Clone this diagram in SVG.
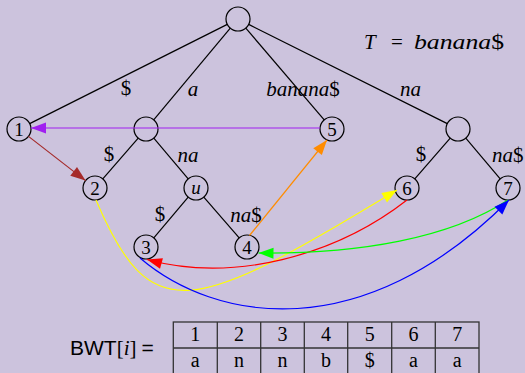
<svg xmlns="http://www.w3.org/2000/svg" width="525" height="373" viewBox="0 0 525 373">
<style>
.node circle{fill:none;stroke:#000;stroke-width:1.2}
.node text{font-family:"Liberation Serif",serif;font-size:19px;text-anchor:middle;fill:#000}
.edge{stroke:#000;stroke-width:1.2;fill:none}
.lbl{font-family:"Liberation Serif",serif;font-size:21px;font-style:italic;fill:#000}
.up{font-style:normal}
.arr{fill:none;stroke-width:1.2}
.tbl{fill:none;stroke:#333;stroke-width:1.3}
.cell{font-family:"Liberation Serif",serif;font-size:20px;text-anchor:middle;fill:#000}
</style>
<defs>
<marker id="m-purple" viewBox="-16 -7 17 14" refX="0" refY="0" markerWidth="17" markerHeight="14" markerUnits="userSpaceOnUse" orient="auto"><path d="M0,0 L-15,-5.5 L-15,5.5 Z" fill="#a020f0"/></marker>
<marker id="m-brown" viewBox="-16 -7 17 14" refX="0" refY="0" markerWidth="17" markerHeight="14" markerUnits="userSpaceOnUse" orient="auto"><path d="M0,0 L-15,-5.5 L-15,5.5 Z" fill="#a52a2a"/></marker>
<marker id="m-orange" viewBox="-16 -7 17 14" refX="0" refY="0" markerWidth="17" markerHeight="14" markerUnits="userSpaceOnUse" orient="auto"><path d="M0,0 L-15,-5.5 L-15,5.5 Z" fill="#ff8c00"/></marker>
<marker id="m-yellow" viewBox="-16 -7 17 14" refX="0" refY="0" markerWidth="17" markerHeight="14" markerUnits="userSpaceOnUse" orient="auto"><path d="M0,0 L-15,-5.5 L-15,5.5 Z" fill="#ffff00"/></marker>
<marker id="m-red" viewBox="-16 -7 17 14" refX="0" refY="0" markerWidth="17" markerHeight="14" markerUnits="userSpaceOnUse" orient="auto"><path d="M0,0 L-15,-5.5 L-15,5.5 Z" fill="#ff0000"/></marker>
<marker id="m-green" viewBox="-16 -7 17 14" refX="0" refY="0" markerWidth="17" markerHeight="14" markerUnits="userSpaceOnUse" orient="auto"><path d="M0,0 L-15,-5.5 L-15,5.5 Z" fill="#00ff00"/></marker>
<marker id="m-blue" viewBox="-16 -7 17 14" refX="0" refY="0" markerWidth="17" markerHeight="14" markerUnits="userSpaceOnUse" orient="auto"><path d="M0,0 L-15,-5.5 L-15,5.5 Z" fill="#0000ff"/></marker>
</defs>
<rect x="0" y="0" width="525" height="373" fill="#ccc3dd"/>

<g id="connectors">
<line class="edge" x1="227.3" y1="24.4" x2="29.7" y2="123.6"/>
<line class="edge" x1="230.3" y1="28.2" x2="153.7" y2="119.8"/>
<line class="edge" x1="245.8" y1="28.1" x2="324.2" y2="119.9"/>
<line class="edge" x1="248.7" y1="24.4" x2="447.3" y2="123.6"/>
<line class="edge" x1="138.2" y1="138.1" x2="102.8" y2="178.9"/>
<line class="edge" x1="153.8" y1="138.2" x2="188.2" y2="178.8"/>
<line class="edge" x1="188.2" y1="197.2" x2="153.8" y2="237.8"/>
<line class="edge" x1="203.8" y1="197.1" x2="239.2" y2="237.9"/>
<line class="edge" x1="450.2" y1="138.1" x2="414.8" y2="178.9"/>
<line class="edge" x1="465.8" y1="138.2" x2="500.2" y2="178.8"/>
<g id="edge-labels">
<text class="lbl up" x="126" y="95" text-anchor="middle">$</text>
<text class="lbl" x="193" y="96" text-anchor="middle">a</text>
<text class="lbl" x="303" y="96" text-anchor="middle">banana<tspan class="up">$</tspan></text>
<text class="lbl" x="410.5" y="96" text-anchor="middle">na</text>
<text class="lbl up" x="109" y="161" text-anchor="middle">$</text>
<text class="lbl" x="188" y="162" text-anchor="middle">na</text>
<text class="lbl up" x="160" y="221" text-anchor="middle">$</text>
<text class="lbl" x="246" y="222" text-anchor="middle">na<tspan class="up">$</tspan></text>
<text class="lbl up" x="421" y="161" text-anchor="middle">$</text>
<text class="lbl" x="492" y="162">na<tspan class="up">$</tspan></text>
</g>
</g>

<g id="nodes">
<g id="root" class="node"><circle cx="238" cy="19" r="12"/></g>
<g id="n1" class="node"><circle cx="19" cy="129" r="12"/><text x="19" y="136">1</text></g>
<g id="nA" class="node"><circle cx="146" cy="129" r="12"/></g>
<g id="n2" class="node"><circle cx="95" cy="188" r="12"/><text x="95" y="195">2</text></g>
<g id="nU" class="node"><circle cx="196" cy="188" r="12"/><text x="196" y="194" font-style="italic">u</text></g>
<g id="n3" class="node"><circle cx="146" cy="247" r="12"/><text x="146" y="254">3</text></g>
<g id="n4" class="node"><circle cx="247" cy="247" r="12"/><text x="247" y="254">4</text></g>
<g id="n5" class="node"><circle cx="332" cy="129" r="12"/><text x="332" y="136">5</text></g>
<g id="nN" class="node"><circle cx="458" cy="129" r="12"/></g>
<g id="n6" class="node"><circle cx="407" cy="188" r="12"/><text x="407" y="195">6</text></g>
<g id="n7" class="node"><circle cx="508" cy="188" r="12"/><text x="508" y="195">7</text></g>
</g>

<g id="arrows">
<path class="arr" stroke="#a020f0" d="M320,128 L31,128" marker-end="url(#m-purple)"/>
<path class="arr" stroke="#a52a2a" d="M28.5,136.4 L85.5,180.6" marker-end="url(#m-brown)"/>
<path class="arr" stroke="#ff8c00" d="M249.5,235.5 L327,140" marker-end="url(#m-orange)"/>
<path class="arr" stroke="#ffff00" d="M96,200 C151,329 191,315 397,190" marker-end="url(#m-yellow)"/>
<path class="arr" stroke="#ff0000" d="M407,200 C335,256 233,283 147,259.5" marker-end="url(#m-red)"/>
<path class="arr" stroke="#00ff00" d="M508,200 C450,238 360,254 258.5,253" marker-end="url(#m-green)"/>
<path class="arr" stroke="#0000ff" d="M140,258 C215,322 362,348 509,200" marker-end="url(#m-blue)"/>
</g>

<g id="title">
<text class="lbl" x="364" y="49" font-size="27">T</text>
<text class="lbl up" x="397" y="49" font-size="26" text-anchor="middle">=</text>
<text class="lbl" x="414" y="49" font-size="27" textLength="90" lengthAdjust="spacingAndGlyphs">banana<tspan class="up">$</tspan></text>
</g>

<g id="bwt">
<text x="70" y="355" font-family="Liberation Sans, sans-serif" font-size="21" fill="#000">BWT<tspan font-family="Liberation Serif, serif">[<tspan font-style="italic">i</tspan>]</tspan><tspan dx="5">=</tspan></text>
<rect class="tbl" x="173.3" y="322" width="305.7" height="53"/>
<line class="tbl" x1="173.3" y1="348" x2="479" y2="348"/>
<line class="tbl" x1="217.3" y1="322" x2="217.3" y2="375"/>
<line class="tbl" x1="260.7" y1="322" x2="260.7" y2="375"/>
<line class="tbl" x1="304.3" y1="322" x2="304.3" y2="375"/>
<line class="tbl" x1="347.7" y1="322" x2="347.7" y2="375"/>
<line class="tbl" x1="391.7" y1="322" x2="391.7" y2="375"/>
<line class="tbl" x1="435.3" y1="322" x2="435.3" y2="375"/>
<text class="cell" x="195.3" y="341">1</text>
<text class="cell" x="239" y="341">2</text>
<text class="cell" x="282.5" y="341">3</text>
<text class="cell" x="326" y="341">4</text>
<text class="cell" x="369.7" y="341">5</text>
<text class="cell" x="413.5" y="341">6</text>
<text class="cell" x="457.2" y="341">7</text>
<text class="cell" x="195.3" y="367">a</text>
<text class="cell" x="239" y="367">n</text>
<text class="cell" x="282.5" y="367">n</text>
<text class="cell" x="326" y="367">b</text>
<text class="cell" x="369.7" y="367">$</text>
<text class="cell" x="413.5" y="367">a</text>
<text class="cell" x="457.2" y="367">a</text>
</g>
</svg>
